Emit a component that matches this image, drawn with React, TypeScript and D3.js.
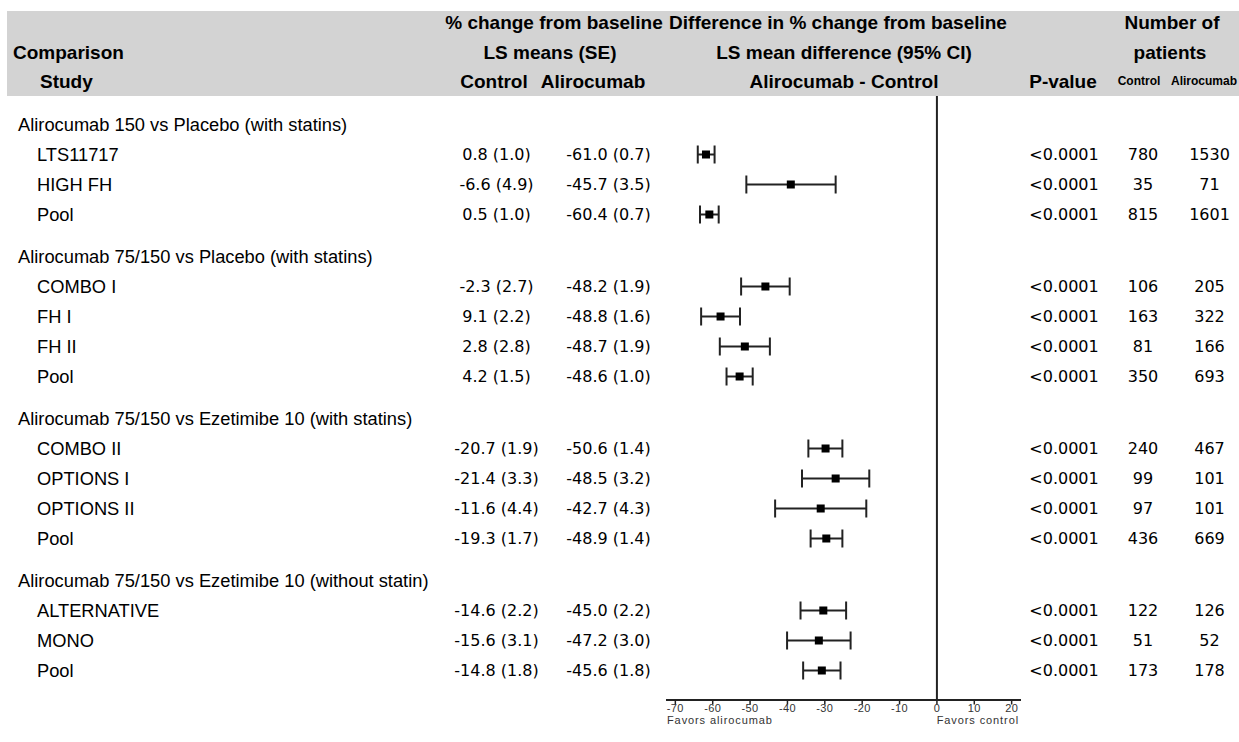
import React from "react";
import * as d3 from "d3";

const groupTitles = [
  "Alirocumab 150 vs Placebo (with statins)",
  "Alirocumab 75/150 vs Placebo (with statins)",
  "Alirocumab 75/150 vs Ezetimibe 10 (with statins)",
  "Alirocumab 75/150 vs Ezetimibe 10 (without statin)",
];
const studyGroup = [0, 0, 0, 1, 1, 1, 1, 2, 2, 2, 2, 3, 3, 3];
const studyNames = ["LTS11717", "HIGH FH", "Pool", "COMBO I", "FH I", "FH II", "Pool", "COMBO II", "OPTIONS I", "OPTIONS II", "Pool", "ALTERNATIVE", "MONO", "Pool"];
const controlLS = ["0.8 (1.0)", "-6.6 (4.9)", "0.5 (1.0)", "-2.3 (2.7)", "9.1 (2.2)", "2.8 (2.8)", "4.2 (1.5)", "-20.7 (1.9)", "-21.4 (3.3)", "-11.6 (4.4)", "-19.3 (1.7)", "-14.6 (2.2)", "-15.6 (3.1)", "-14.8 (1.8)"];
const aliroLS = ["-61.0 (0.7)", "-45.7 (3.5)", "-60.4 (0.7)", "-48.2 (1.9)", "-48.8 (1.6)", "-48.7 (1.9)", "-48.6 (1.0)", "-50.6 (1.4)", "-48.5 (3.2)", "-42.7 (4.3)", "-48.9 (1.4)", "-45.0 (2.2)", "-47.2 (3.0)", "-45.6 (1.8)"];
const diffMean = [-61.8, -39.1, -60.9, -45.9, -57.9, -51.4, -52.8, -29.8, -27.1, -31.1, -29.6, -30.4, -31.6, -30.8];
const diffLow = [-64.0, -51.0, -63.4, -52.4, -63.1, -58.1, -56.3, -34.4, -36.1, -43.3, -33.8, -36.5, -40.1, -35.8];
const diffHigh = [-59.5, -27.1, -58.4, -39.4, -52.7, -44.7, -49.3, -25.3, -18.1, -18.9, -25.3, -24.3, -23.1, -25.8];
const pValues = ["<0.0001", "<0.0001", "<0.0001", "<0.0001", "<0.0001", "<0.0001", "<0.0001", "<0.0001", "<0.0001", "<0.0001", "<0.0001", "<0.0001", "<0.0001", "<0.0001"];
const nControl = [780, 35, 815, 106, 163, 81, 350, 240, 99, 97, 436, 122, 51, 173];
const nAliro = [1530, 71, 1601, 205, 322, 166, 693, 467, 101, 101, 669, 126, 52, 178];
const xTicks = [-70, -60, -50, -40, -30, -20, -10, 0, 10, 20];

type Row = { kind: "group" | "study"; idx: number; g: number; pos: number };

export default function App() {
  const rows: Row[] = [];
  let pos = 0;
  groupTitles.forEach((_, g) => {
    rows.push({ kind: "group", idx: g, g, pos: pos++ });
    studyNames.forEach((_, i) => {
      if (studyGroup[i] === g) rows.push({ kind: "study", idx: i, g, pos: pos++ });
    });
  });
  const yPos = d3.scaleLinear().domain([0, 1]).range([124.5, 154.5]);
  const yOf = (r: Row) => yPos(r.pos) + r.g * 12;

  const x = d3.scaleLinear().domain([-72.5, 22.5]).range([666, 1021]);
  const axisY = 700;

  const left = "'Liberation Sans', Arial, sans-serif";
  const num = "'DejaVu Sans', Verdana, sans-serif";
  const hdr = { fontFamily: left, fontWeight: 700, fontSize: 19, fill: "#000" } as const;

  return (
    <svg width={1239} height={742} style={{ position: "absolute", left: 0, top: 0, background: "#fff" }}>
      <rect x={7} y={11} width={1232} height={85} fill="#d3d3d3" />
      <g {...hdr}>
        <text x={554} y={22} textAnchor="middle" dominantBaseline="central">% change from baseline</text>
        <text x={838} y={22} textAnchor="middle" dominantBaseline="central">Difference in % change from baseline</text>
        <text x={1172} y={22} textAnchor="middle" dominantBaseline="central">Number of</text>
        <text x={13} y={52} dominantBaseline="central">Comparison</text>
        <text x={550} y={52} textAnchor="middle" dominantBaseline="central">LS means (SE)</text>
        <text x={844} y={52} textAnchor="middle" dominantBaseline="central">LS mean difference (95% CI)</text>
        <text x={1170} y={52} textAnchor="middle" dominantBaseline="central">patients</text>
        <text x={40} y={81} dominantBaseline="central">Study</text>
        <text x={494} y={81} textAnchor="middle" dominantBaseline="central">Control</text>
        <text x={593} y={81} textAnchor="middle" dominantBaseline="central">Alirocumab</text>
        <text x={844} y={81} textAnchor="middle" dominantBaseline="central">Alirocumab - Control</text>
        <text x={1063} y={81} textAnchor="middle" dominantBaseline="central">P-value</text>
        <text x={1139} y={81} textAnchor="middle" dominantBaseline="central" fontSize={12}>Control</text>
        <text x={1204} y={81} textAnchor="middle" dominantBaseline="central" fontSize={12}>Alirocumab</text>
      </g>

      <line x1={x(0)} x2={x(0)} y1={96} y2={axisY} stroke="#222" strokeWidth={2} />

      {rows.map((r) => {
        const y = yOf(r);
        if (r.kind === "group") {
          return (
            <text key={"g" + r.idx} x={18} y={y} dominantBaseline="central" fontFamily={left} fontSize={18.3}>
              {groupTitles[r.idx]}
            </text>
          );
        }
        const i = r.idx;
        return (
          <g key={"s" + i}>
            <text x={37} y={y} dominantBaseline="central" fontFamily={left} fontSize={18.3}>{studyNames[i]}</text>
            <g fontFamily={num} fontSize={16} textAnchor="middle">
              <text x={496.5} y={y} dominantBaseline="central">{controlLS[i]}</text>
              <text x={608.5} y={y} dominantBaseline="central">{aliroLS[i]}</text>
              <text x={1064} y={y} dominantBaseline="central">{pValues[i]}</text>
              <text x={1143} y={y} dominantBaseline="central">{nControl[i]}</text>
              <text x={1209.5} y={y} dominantBaseline="central">{nAliro[i]}</text>
            </g>
            <g stroke="#222" strokeWidth={2}>
              <line x1={x(diffLow[i])} x2={x(diffHigh[i])} y1={y} y2={y} />
              <line x1={x(diffLow[i])} x2={x(diffLow[i])} y1={y - 9} y2={y + 9} />
              <line x1={x(diffHigh[i])} x2={x(diffHigh[i])} y1={y - 9} y2={y + 9} />
            </g>
            <rect x={x(diffMean[i]) - 4} y={y - 4} width={8} height={8} fill="#000" />
          </g>
        );
      })}

      <line x1={x.range()[0]} x2={x.range()[1]} y1={axisY} y2={axisY} stroke="#222" strokeWidth={2} />
      {xTicks.map((t) => (
        <g key={t}>
          <line x1={x(t)} x2={x(t)} y1={axisY} y2={axisY + 4.5} stroke="#222" strokeWidth={1.5} />
          <text x={x(t)} y={axisY + 8} textAnchor="middle" dominantBaseline="central" fontFamily={left} fontSize={11} fill="#333" letterSpacing={0.4}>
            {t}
          </text>
        </g>
      ))}
      <text x={x.range()[0] + 1} y={axisY + 19.5} dominantBaseline="central" fontFamily={left} fontSize={11} fill="#333" letterSpacing={0.9}>
        Favors alirocumab
      </text>
      <text x={x.range()[1] - 2} y={axisY + 19.5} textAnchor="end" dominantBaseline="central" fontFamily={left} fontSize={11} fill="#333" letterSpacing={0.9}>
        Favors control
      </text>
    </svg>
  );
}
